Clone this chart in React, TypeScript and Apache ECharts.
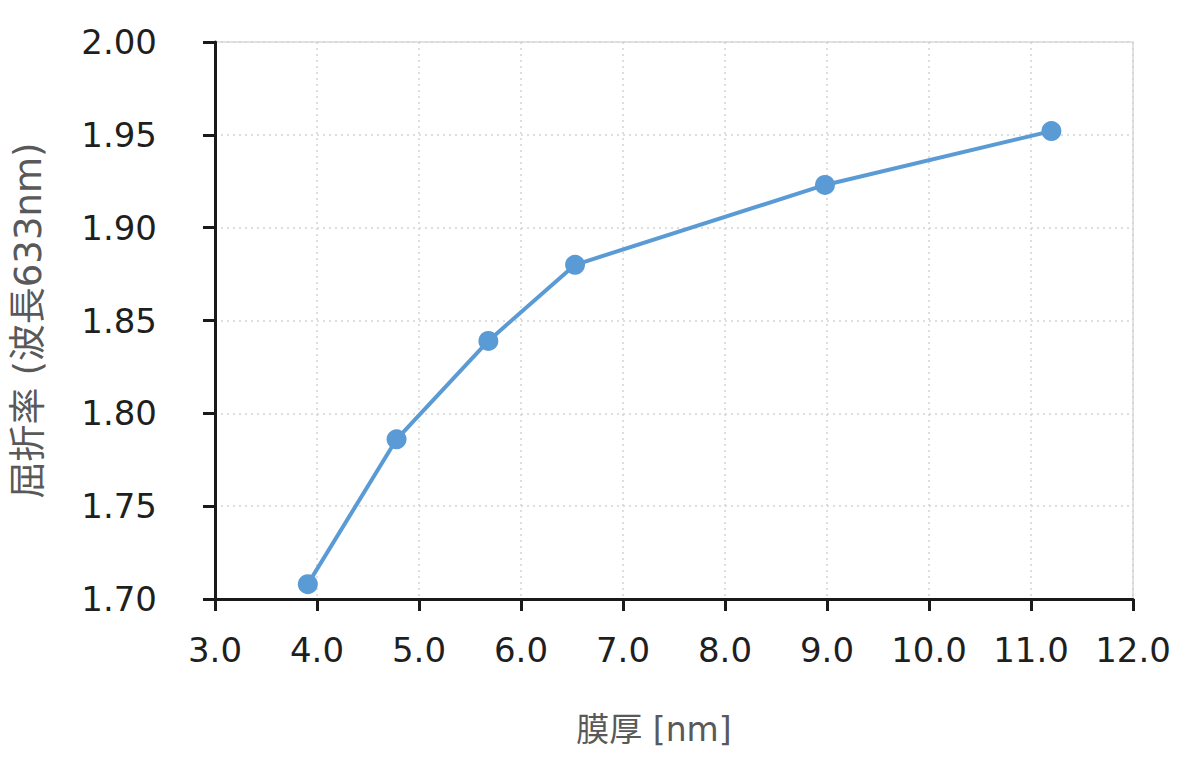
import React, { useEffect, useRef } from "react";
import * as echarts from "echarts";

const thickness = [3.91, 4.78, 5.68, 6.53, 8.98, 11.2];
const refractiveIndex = [1.708, 1.786, 1.839, 1.88, 1.923, 1.952];
const xAxisTitle = "膜厚 [nm]";
const yAxisTitle = "屈折率 (波長633nm)";

export default function App() {
  const ref = useRef<HTMLDivElement>(null);
  useEffect(() => {
    if (!ref.current) return;
    const chart = echarts.init(ref.current, undefined, { renderer: "svg" });
    const font = "Verdana, 'DejaVu Sans', 'Noto Sans CJK JP', sans-serif";
    chart.setOption({
      animation: false,
      backgroundColor: "#ffffff",
      grid: {
        left: 215,
        right: 67,
        top: 42,
        bottom: 159,
        show: true,
        borderColor: "#d9d9d9",
        borderWidth: 1.5,
      },
      xAxis: {
        type: "value",
        min: 3,
        max: 12,
        interval: 1,
        name: xAxisTitle,
        nameLocation: "middle",
        nameGap: 114,
        nameTextStyle: { fontSize: 33, color: "#595959", fontFamily: font, padding: [0, 40, 0, 0] },
        axisLine: { show: true, onZero: false, lineStyle: { color: "#1a1a1a", width: 3 } },
        axisTick: { show: true, length: 12, lineStyle: { color: "#1a1a1a", width: 3 } },
        axisLabel: {
          fontSize: 34,
          color: "#1f1f1f",
          fontFamily: font,
          margin: 34,
          formatter: (v: number) => v.toFixed(1),
        },
        splitLine: { show: true, lineStyle: { color: "#d4d4d4", type: [2, 4], width: 1.5 } },
      },
      yAxis: {
        type: "value",
        min: 1.7,
        max: 2.0,
        interval: 0.05,
        name: yAxisTitle,
        nameLocation: "middle",
        nameGap: 168,
        nameRotate: 90,
        nameTextStyle: { fontSize: 37, color: "#595959", fontFamily: font },
        axisLine: { show: true, onZero: false, lineStyle: { color: "#1a1a1a", width: 3 } },
        axisTick: { show: true, length: 12, lineStyle: { color: "#1a1a1a", width: 3 } },
        axisLabel: {
          fontSize: 34,
          color: "#1f1f1f",
          fontFamily: font,
          margin: 58,
          formatter: (v: number) => v.toFixed(2),
        },
        splitLine: { show: true, lineStyle: { color: "#d4d4d4", type: [2, 4], width: 1.5 } },
      },
      series: [
        {
          type: "line",
          data: thickness.map((x, i) => [x, refractiveIndex[i]]),
          symbol: "circle",
          symbolSize: 20,
          lineStyle: { color: "#5b9bd5", width: 4 },
          itemStyle: { color: "#5b9bd5" },
        },
      ],
    });
    return () => chart.dispose();
  }, []);
  return (
    <div
      ref={ref}
      style={{ position: "absolute", left: 0, top: 0, width: 1200, height: 758 }}
    />
  );
}
